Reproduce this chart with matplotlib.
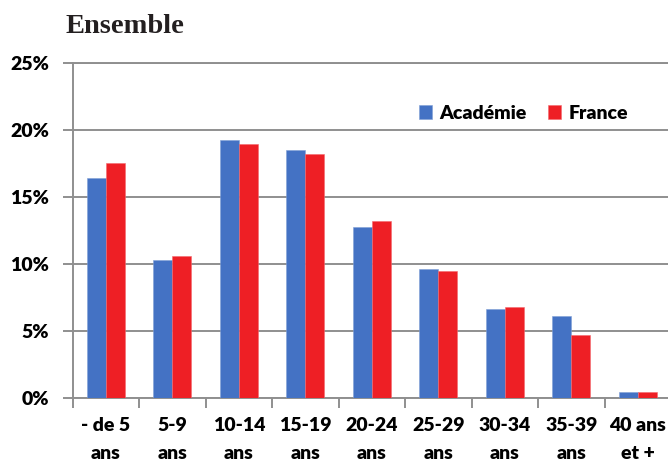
import numpy as np
import matplotlib.pyplot as plt

# Répartition par tranche d'âge (en %)
categories = ['- de 5\nans', '5-9\nans', '10-14\nans', '15-19\nans', '20-24\nans',
              '25-29\nans', '30-34\nans', '35-39\nans', '40 ans\net +']
academie = [16.4, 10.3, 19.2, 18.5, 12.7, 9.6, 6.6, 6.1, 0.45]
france = [17.5, 10.6, 18.9, 18.2, 13.2, 9.45, 6.8, 4.65, 0.45]
yticks = [0, 5, 10, 15, 20, 25]

blue = '#4472C4'
red = '#EE1F25'
grey = '#8F8F8F'
font = 'Lato'
fsize = 14

W, H = 668, 463
fig = plt.figure(figsize=(W / 100, H / 100), dpi=100)
# axes placed in pixel coords, the last category runs slightly past the right edge
x0, x1, y0, y1 = 72.7, 671.0, 397.7, 62.5
ax = fig.add_axes([x0 / W, 1 - y0 / H, (x1 - x0) / W, (y0 - y1) / H])

x = np.arange(len(categories))
w = 0.285
ax.bar(x - w / 2, academie, w, color=blue, edgecolor='#7f9fd6', linewidth=0.4,
       label='Académie', zorder=3)
ax.bar(x + w / 2, france, w, color=red, edgecolor='#f36a6e', linewidth=0.4,
       label='France', zorder=3)

ax.set_xlim(-0.5, len(categories) - 0.5)
ax.set_ylim(0, 25)
ax.set_yticks(yticks)
ax.set_yticklabels([f'{v}%' for v in yticks], fontfamily=font,
                   fontweight='heavy', fontsize=fsize)
ax.grid(axis='y', color=grey, linewidth=1.4, zorder=0)
ax.axhline(25, color=grey, linewidth=1.4, zorder=0, clip_on=False)

# boundaries get the tick marks, centres get the labels
ax.set_xticks(np.arange(len(categories) + 1) - 0.5)
ax.set_xticklabels([])
ax.set_xticks(x, minor=True)
ax.set_xticklabels(categories, minor=True, fontfamily=font, fontweight='heavy',
                   fontsize=fsize, linespacing=1.8)
ax.tick_params(axis='x', which='major', length=7, width=1.4, color=grey,
               direction='out')
ax.tick_params(axis='x', which='minor', length=0, pad=14)
ax.tick_params(axis='y', length=7, width=1.4, color=grey, pad=10)

for s in ['top', 'right']:
    ax.spines[s].set_visible(False)
for s in ['left', 'bottom']:
    ax.spines[s].set_color(grey)
    ax.spines[s].set_linewidth(1.4)

fig.text(65 / W, 1 - 33 / H, 'Ensemble', fontfamily='Liberation Serif',
         fontweight='bold', fontsize=20.5, color='#231f20')

leg = ax.legend(loc='upper left', bbox_to_anchor=((409 - x0) / (x1 - x0), 1 - (95 - y1) / (y0 - y1)),
                ncol=2, frameon=False, handlelength=0.7, handleheight=0.7,
                handletextpad=0.35, columnspacing=1.1, borderpad=0,
                prop={'family': font, 'weight': 'heavy', 'size': fsize})

fig.savefig('out.png', dpi=100, facecolor='white')
